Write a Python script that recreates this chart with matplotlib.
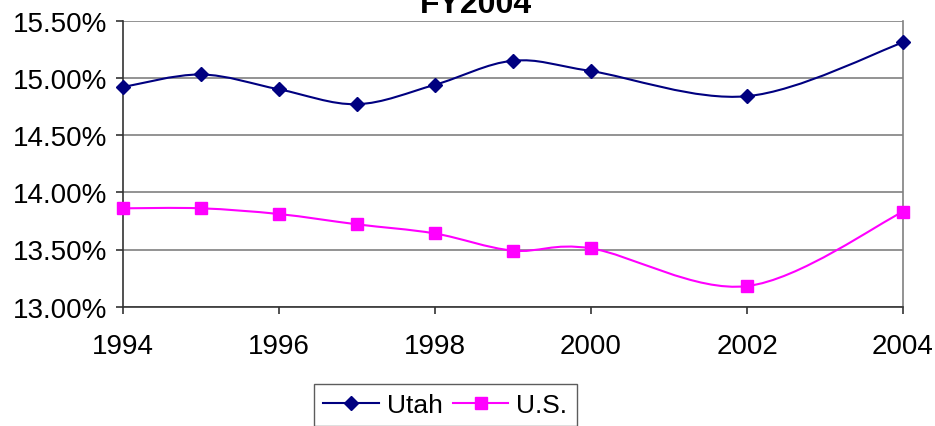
import matplotlib
matplotlib.use("Agg")
import matplotlib.pyplot as plt
from matplotlib.path import Path
from matplotlib.patches import PathPatch
from matplotlib.lines import Line2D
from matplotlib.ticker import FuncFormatter

plt.rcParams["font.family"] = ["Liberation Sans", "DejaVu Sans"]

# ── Data ─────────────────────────────────────────────────────────────────────
years = [1994, 1995, 1996, 1997, 1998, 1999, 2000, 2002, 2004]
utah  = [14.92, 15.03, 14.90, 14.77, 14.94, 15.15, 15.06, 14.84, 15.31]
us    = [13.86, 13.86, 13.81, 13.72, 13.64, 13.49, 13.51, 13.18, 13.83]
title = "FY2004"
x_ticks = [1994, 1996, 1998, 2000, 2002, 2004]
y_ticks = [13.0, 13.5, 14.0, 14.5, 15.0, 15.5]

UTAH_C = "#000080"
US_C   = "#FF00FF"


def smooth_path(xs, ys):
    """Excel-style smoothed line: cubic Bezier through every point."""
    pts = list(zip(xs, ys))
    n = len(pts)
    verts = [pts[0]]
    codes = [Path.MOVETO]
    for i in range(n - 1):
        p0 = pts[max(i - 1, 0)]
        p1 = pts[i]
        p2 = pts[i + 1]
        p3 = pts[min(i + 2, n - 1)]
        c1 = (p1[0] + (p2[0] - p0[0]) / 6, p1[1] + (p2[1] - p0[1]) / 6)
        c2 = (p2[0] - (p3[0] - p1[0]) / 6, p2[1] - (p3[1] - p1[1]) / 6)
        verts += [c1, c2, p2]
        codes += [Path.CURVE4] * 3
    return Path(verts, codes)


fig = plt.figure(figsize=(9.35, 4.27), dpi=100)
ax = fig.add_axes([123 / 935, 1 - 307.7 / 427, (903 - 123) / 935, (307.7 - 21.7) / 427])

for ys, color, marker, ms in [(utah, UTAH_C, "D", 7.5), (us, US_C, "s", 8)]:
    ax.add_patch(PathPatch(smooth_path(years, ys), fill=False, edgecolor=color,
                           linewidth=1.5, zorder=3))
    ax.plot(years, ys, linestyle="none", marker=marker, markersize=ms,
            color=color, markeredgecolor=color, zorder=4, clip_on=False)

ax.set_xlim(1994, 2004)
ax.set_ylim(13.0, 15.5)
ax.set_xticks(x_ticks)
ax.set_yticks(y_ticks)
ax.yaxis.set_major_formatter(FuncFormatter(lambda v, _: f"{v:.2f}%"))
ax.grid(axis="y", color="#808080", linewidth=1.2)
ax.set_axisbelow(True)

ax.spines["top"].set_visible(False)
ax.spines["right"].set_color("#808080")
ax.spines["right"].set_linewidth(1.2)
for side in ["left", "bottom"]:
    ax.spines[side].set_color("#333333")
    ax.spines[side].set_linewidth(1.2)

ax.tick_params(axis="y", length=5, width=1.2, color="#333333", pad=6, labelsize=20)
ax.tick_params(axis="x", length=5, width=1.2, color="#333333", pad=14, labelsize=20)

fig.text(476 / 935, 1 - 13 / 427, title, ha="center", va="baseline",
         fontsize=23, fontweight="bold")

handles = [
    Line2D([], [], color=UTAH_C, linewidth=1.5, marker="D", markersize=7.5),
    Line2D([], [], color=US_C, linewidth=1.5, marker="s", markersize=8),
]
leg = fig.legend(handles, ["Utah", "U.S."], loc="upper left",
                 bbox_to_anchor=(314 / 935, 1 - 385 / 427), ncol=2,
                 fontsize=19, frameon=True, fancybox=False, shadow=False,
                 handlelength=2.1, handletextpad=0.3, columnspacing=0.4,
                 borderpad=0.35, borderaxespad=0)
leg.get_frame().set_edgecolor("#333333")
leg.get_frame().set_linewidth(1.0)

fig.savefig("out.png", dpi=100)
